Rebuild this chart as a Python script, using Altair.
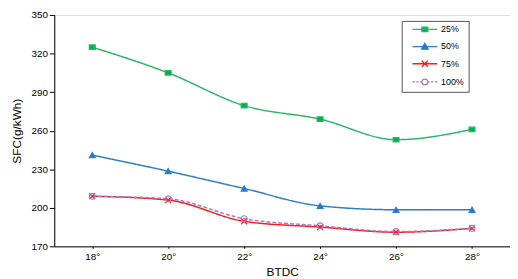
import altair as alt
import pandas as pd

angles = ["18°", "20°", "22°", "24°", "26°", "28°"]
series_names = ["25%", "50%", "75%", "100%"]
sfc_25 = [325, 305, 279.5, 269, 253, 261]
sfc_50 = [241, 228.5, 215, 201.5, 198.5, 198.5]
sfc_75 = [209, 206, 189.5, 185, 181, 184]
sfc_100 = [209, 207, 191.5, 186, 181.5, 184]

colors = ["#2ab864", "#2a7fcc", "#ff1a1a", "#a07cd0"]
fills = ["#00b050", "#1f78c8", "transparent", "transparent"]
shapes = ["M-1,-0.75L1,-0.75L1,0.75L-1,0.75Z", "triangle-up", "M-1,-1L1,1M-1,1L1,-1",
          "M1,0A1,1 0 1,1 -1,0A1,1 0 1,1 1,0"]
legend_shapes = [
    "M-4.2,0L4.2,0M-1,-0.75L1,-0.75L1,0.75L-1,0.75Z",
    "M-4.2,0L4.2,0M0,-1.1L1.1,0.9L-1.1,0.9Z",
    "M-4.2,0L4.2,0M-1,-1L1,1M-1,1L1,-1",
    "M-4.2,0L-3.4,0M-2.9,0L-2.1,0M-1.6,0L-1,0M1,0L1.6,0M2.1,0L2.9,0M3.4,0L4.2,0"
    "M1,0A1,1 0 1,1 -1,0A1,1 0 1,1 1,0",
]
dashes = [[1, 0], [1, 0], [1, 0], [4, 2]]

rows = []
for name, vals in zip(series_names, [sfc_25, sfc_50, sfc_75, sfc_100]):
    for a, v in zip(angles, vals):
        rows.append({"BTDC": a, "SFC": v, "series": name})
df = pd.DataFrame(rows)

x = alt.X("BTDC:N", sort=angles, scale=alt.Scale(type="point", padding=0.5),
          axis=alt.Axis(title="BTDC", labelAngle=0, ticks=True, tickSize=2, tickColor="#000",
                        domainColor="#000",
                        labelFont="Liberation Sans", labelFontSize=10, labelColor="#000",
                        titleFont="Liberation Sans", titleFontSize=12, titleFontWeight="normal",
                        titleColor="#000", labelPadding=3, titlePadding=6))
y = alt.Y("SFC:Q", scale=alt.Scale(domain=[170, 350]),
          axis=alt.Axis(title="SFC(g/kWh)", values=[170, 200, 230, 260, 290, 320, 350],
                        grid=False, tickColor="#000", domainColor="#000", tickSize=5,
                        labelFont="Liberation Sans", labelFontSize=10, labelColor="#000",
                        titleFont="Liberation Sans", titleFontSize=12, titleFontWeight="normal",
                        titleColor="#000", titlePadding=8))

color_scale = alt.Scale(domain=series_names, range=colors)
fill_scale = alt.Scale(domain=series_names, range=fills)

legend = alt.Legend(title=None, orient="none", legendX=353, legendY=6, padding=4,
                    strokeColor="#555", fillColor="white", labelFont="Liberation Sans",
                    labelFontSize=9, labelColor="#000", symbolSize=36, rowPadding=5.5,
                    symbolStrokeWidth=1.3, cornerRadius=0, symbolOffset=15,
                    labelOffset=12, symbolOpacity=1)

lines = alt.Chart(df).mark_line(interpolate="monotone", strokeWidth=1.5).encode(
    x=x, y=y,
    color=alt.Color("series:N", scale=color_scale, sort=series_names, legend=None),
    strokeDash=alt.StrokeDash("series:N", scale=alt.Scale(domain=series_names, range=dashes),
                              sort=series_names, legend=None),
)
points = alt.Chart(df).mark_point(size=36, strokeWidth=1.2, opacity=1).encode(
    x=x, y=y,
    color=alt.Color("series:N", scale=color_scale, sort=series_names, legend=None),
    shape=alt.Shape("series:N", scale=alt.Scale(domain=series_names, range=shapes),
                    sort=series_names, legend=None),
    fill=alt.Fill("series:N", scale=fill_scale, sort=series_names, legend=None),
)
legend_layer = alt.Chart(df).mark_point(size=36, strokeWidth=1.2, opacity=0).encode(
    x=x, y=y,
    color=alt.Color("series:N", scale=color_scale, sort=series_names, legend=legend),
    shape=alt.Shape("series:N", scale=alt.Scale(domain=series_names, range=legend_shapes),
                    sort=series_names, legend=legend),
    fill=alt.Fill("series:N", scale=fill_scale, sort=series_names, legend=legend),
)

chart = (lines + points + legend_layer).resolve_scale(
    color="independent", shape="independent", fill="independent"
).properties(
    width=463, height=235,
    padding={"left": 47, "top": 5, "right": 0, "bottom": 30},
    autosize=alt.AutoSizeParams(type="none"),
).configure_view(stroke=None).configure(background="white")

chart.save("out.html", embed_options={"renderer": "svg", "actions": False})
